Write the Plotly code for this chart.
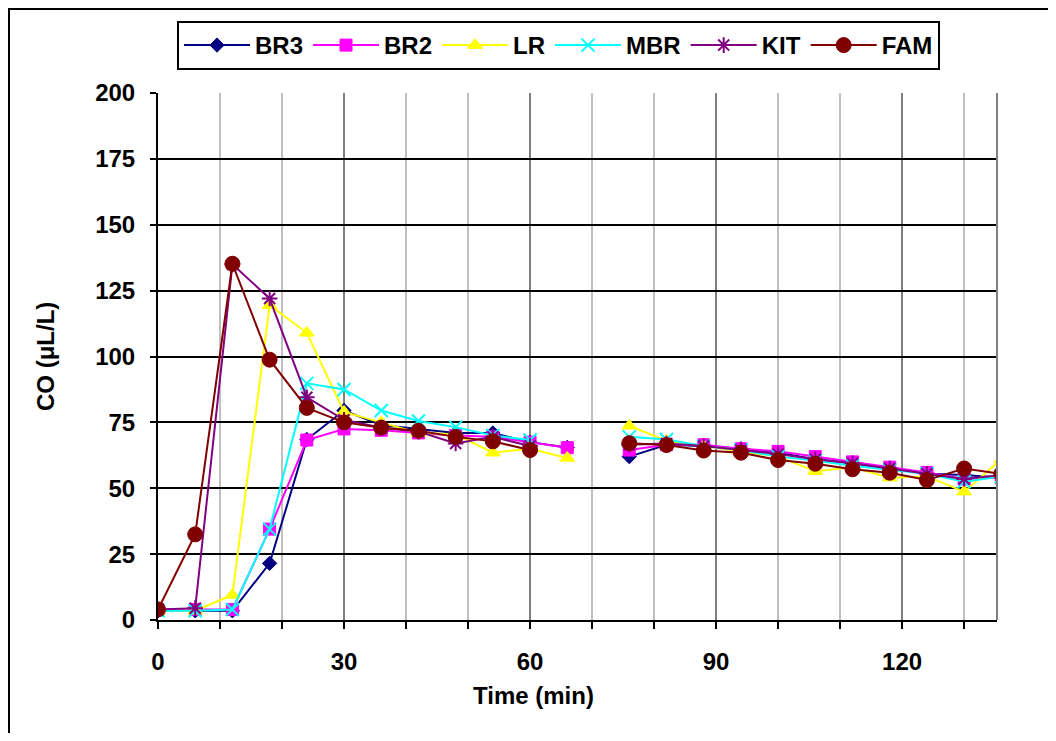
import plotly.graph_objects as go

# ---- data ----
time_min = [0, 6, 12, 18, 24, 30, 36, 42, 48, 54, 60, 66, 71, 76, 82, 88, 94, 100, 106, 112, 118, 124, 130, 136]
BR3 = [3.5, 3.5, 3.5, 21.5, 68.5, 79.5, 74, 72.5, 71, 71, 67.5, 65.5, None, 62, 66.5, 66, 65, 63.5, 61, 59.5, 57.5, 55.5, 55, 54]
BR2 = [4, 4, 4, 34.5, 68.3, 72.5, 72, 71, 70, 69.5, 67.5, 65.4, None, 64.5, 66.5, 66.5, 65, 64, 62, 60, 58, 56, 53.5, 54]
LR = [3.5, 3.5, 9.5, 119.5, 109, 79, 75, 71, 70.5, 63.5, 65, 61.5, None, 73.7, 68, 66, 64, 62, 56.5, 58, 54, 54.5, 48.7, 61]
MBR = [3.5, 3.5, 4, 34.5, 89.8, 87.5, 79.5, 75.5, 73.2, 70, 68.3, None, None, 69.5, 68.5, 66, 64.5, 62, 60.5, 58.5, 57, 55.5, 52.5, 54.5]
KIT = [4, 4.5, 135, 122, 84.5, 76, 73, 71.5, 67, 69.5, 66, None, None, 66.5, 67, 66, 64.5, 63, 61, 59.5, 57.5, 55.5, 53.5, 55]
FAM = [4, 32.5, 135.2, 98.8, 80.5, 75, 73, 71.8, 69.5, 67.8, 64.5, None, None, 67.1, 66.4, 64.3, 63.5, 60.7, 59.3, 57.2, 55.9, 53.1, 57.5, 55.5]

series_names = ["BR3", "BR2", "LR", "MBR", "KIT", "FAM"]
series_vals = [BR3, BR2, LR, MBR, KIT, FAM]

x_tick_vals = [0, 30, 60, 90, 120]
x_tick_text = ["0", "30", "60", "90", "120"]
y_tick_vals = [0, 25, 50, 75, 100, 125, 150, 175, 200]

# ---- styles ----
styles = {
    "BR3": dict(color="#000080", symbol="diamond", size=11, lw=1),
    "BR2": dict(color="#FF00FF", symbol="square", size=12, lw=1),
    "LR": dict(color="#FFFF00", symbol="triangle-up", size=13, lw=1),
    "MBR": dict(color="#00FFFF", symbol="x-thin", size=13, lw=2),
    "KIT": dict(color="#800080", symbol="asterisk", size=13, lw=2),
    "FAM": dict(color="#800000", symbol="circle", size=15, lw=1),
}

FONT = "Liberation Sans, Arial, sans-serif"
FS = 24

fig = go.Figure()
for name, vals in zip(series_names, series_vals):
    s = styles[name]
    fig.add_trace(go.Scatter(
        x=time_min, y=vals, name=name, mode="lines+markers",
        connectgaps=False,
        line=dict(color=s["color"], width=2),
        marker=dict(symbol=s["symbol"], size=s["size"], color=s["color"],
                    line=dict(color=s["color"], width=s["lw"])),
    ))

# page body has an 8px margin; work in reference-image pixels and shift
OFF = 8
W, H = 1040, 725
L, R, T, B = 158 - OFF, 997 - OFF, 93 - OFF, 620 - OFF
pw, ph = R - L, B - T

def px_x(p):
    return (p - OFF - L) / pw

def px_y(p):
    return (B - (p - OFF)) / ph

fig.update_layout(
    width=W, height=H,
    margin=dict(l=L, r=W - R, t=T, b=H - B, pad=0),
    paper_bgcolor="white", plot_bgcolor="white",
    font=dict(family=FONT, size=FS, color="black"),
    showlegend=True,
    legend=dict(
        orientation="h", x=px_x(177), xanchor="left", y=px_y(21), yanchor="top",
        bordercolor="black", borderwidth=2, bgcolor="white",
        font=dict(family=FONT, size=FS, color="black", weight="bold"),
        itemwidth=66, tracegroupgap=0,
    ),
    xaxis=dict(
        range=[0, 135.3], tickvals=x_tick_vals, ticktext=x_tick_text,
        showgrid=True, gridcolor="#808080", gridwidth=2,
        minor=dict(dtick=10, tick0=0, showgrid=True, gridcolor="#c0c0c0", gridwidth=2,
                   ticks="outside", ticklen=7, tickcolor="black", tickwidth=2),
        ticks="outside", ticklen=7, tickcolor="black", tickwidth=2,
        ticklabelstandoff=12,
        showline=True, linecolor="black", linewidth=2,
        zeroline=False,
        tickfont=dict(family=FONT, size=FS, color="black", weight="bold"),
    ),
    yaxis=dict(
        range=[0, 200], tickvals=y_tick_vals,
        showgrid=True, gridcolor="black", gridwidth=2,
        ticks="outside", ticklen=6, tickcolor="black", tickwidth=2,
        ticklabelstandoff=10,
        showline=True, linecolor="black", linewidth=2,
        zeroline=False,
        tickfont=dict(family=FONT, size=FS, color="black", weight="bold"),
    ),
    shapes=[
        dict(type="line", xref="paper", yref="paper", x0=1, x1=1, y0=0, y1=1,
             line=dict(color="#808080", width=2)),
        dict(type="rect", xref="paper", yref="paper",
             x0=px_x(9), x1=px_x(1070), y0=px_y(9), y1=px_y(760),
             line=dict(color="black", width=2), fillcolor="rgba(0,0,0,0)", layer="below"),
    ],
    annotations=[
        dict(text="<b>Time (min)</b>", xref="paper", yref="paper",
             x=px_x(533), y=px_y(695), xanchor="center", yanchor="middle",
             showarrow=False, font=dict(family=FONT, size=FS, color="black")),
        dict(text="<b>CO (μL/L)</b>", xref="paper", yref="paper",
             x=px_x(45), y=px_y(357), xanchor="center", yanchor="middle",
             textangle=-90, showarrow=False, font=dict(family=FONT, size=FS, color="black")),
    ],
)

fig.write_html("out.html")
